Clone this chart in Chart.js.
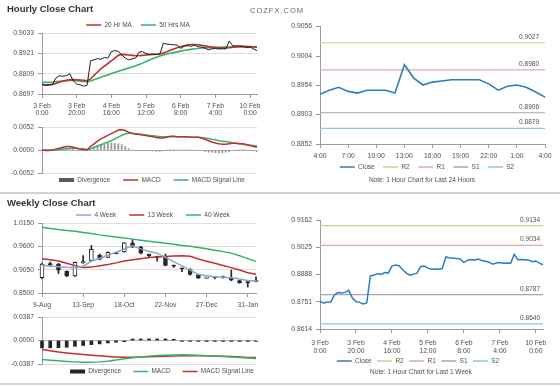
<!DOCTYPE html>
<html>
<head>
<meta charset="utf-8">
<title>Hourly and Weekly Close Charts</title>
<script src="https://cdn.jsdelivr.net/npm/chart.js@4.4.1/dist/chart.umd.min.js"></script>
<style>
  html, body { margin: 0; padding: 0; background: #fff; }
  body { position: relative; width: 560px; height: 386px; overflow: hidden;
         font-family: 'Liberation Sans', Arial, sans-serif; color: #505050; }
  canvas { position: absolute; left: 0; top: 0; }
  .title { position: absolute; left: 7px; font-size: 9.5px; line-height: 10px; font-weight: bold; color: #333; white-space: nowrap; }
  .brand { position: absolute; left: 250px; top: 7px; font-size: 7.5px; line-height: 8px; letter-spacing: 1px; color: #666; }
  .note { position: absolute; width: 200px; font-size: 6.5px; line-height: 8px; text-align: center; white-space: nowrap; }
  .rule { position: absolute; left: 0; width: 560px; height: 2px; background: #d2d2d2; }
</style>
</head>
<body>
<canvas id="hourPrice" width="560" height="386"></canvas>
<canvas id="hourMacd" width="560" height="386"></canvas>
<canvas id="dayChart" width="560" height="386"></canvas>
<canvas id="wkPrice" width="560" height="386"></canvas>
<canvas id="wkMacdChart" width="560" height="386"></canvas>
<canvas id="weekChart" width="560" height="386"></canvas>

<div class="title" style="top:4px">Hourly Close Chart</div>
<div class="brand">COZFX.COM</div>
<div class="note" style="left:322px;top:176px">Note: 1 Hour Chart for Last 24 Hours</div>
<div class="rule" style="top:192px"></div>
<div class="title" style="top:198px">Weekly Close Chart</div>
<div class="note" style="left:321px;top:368px">Note: 1 Hour Chart for Last 1 Week</div>
<div class="rule" style="top:383px"></div>

<script>
// hourly data for the last week, one value every 2 hours (3 Feb 0:00 .. 10 Feb 4:00)
const hourTicks = [['3 Feb', '0:00'], ['3 Feb', '20:00'], ['4 Feb', '16:00'], ['5 Feb', '12:00'],
                   ['6 Feb', '8:00'], ['7 Feb', '4:00'], ['10 Feb', '0:00']];
const hourClose = [
  0.8752, 0.8745, 0.8748, 0.8750, 0.8785, 0.8797, 0.8795, 0.8798, 0.8808, 0.8770,
  0.8752, 0.8748, 0.8740, 0.8745, 0.8880, 0.8885, 0.8892, 0.8888, 0.8898, 0.8895,
  0.8930, 0.8936, 0.8932, 0.8912, 0.8895, 0.8885, 0.8890, 0.8895, 0.8928, 0.8930,
  0.8920, 0.8915, 0.8916, 0.8914, 0.8918, 0.8976, 0.8972, 0.8970, 0.8968, 0.8966,
  0.8948, 0.8960, 0.8963, 0.8960, 0.8966, 0.8958, 0.8955, 0.8950, 0.8940, 0.8946,
  0.8948, 0.8945, 0.8946, 0.8945, 0.8989, 0.8962, 0.8963, 0.8962, 0.8960, 0.8952,
  0.8956, 0.8945, 0.8936];
const ma20 = [
  0.8748, 0.8746, 0.8747, 0.8750, 0.8755, 0.8762, 0.8768, 0.8772, 0.8775, 0.8776,
  0.8775, 0.8774, 0.8772, 0.8770, 0.8780, 0.8800, 0.8818, 0.8835, 0.8850, 0.8865,
  0.8880, 0.8895, 0.8910, 0.8915, 0.8914, 0.8912, 0.8910, 0.8908, 0.8908, 0.8910,
  0.8912, 0.8914, 0.8915, 0.8916, 0.8918, 0.8922, 0.8930, 0.8938, 0.8945, 0.8952,
  0.8958, 0.8963, 0.8968, 0.8970, 0.8970, 0.8968, 0.8965, 0.8962, 0.8958, 0.8955,
  0.8953, 0.8951, 0.8950, 0.8950, 0.8952, 0.8955, 0.8956, 0.8957, 0.8958, 0.8958,
  0.8957, 0.8956, 0.8955];
const ma50 = [
  0.8760, 0.8761, 0.8762, 0.8763, 0.8765, 0.8767, 0.8769, 0.8770, 0.8771, 0.8771,
  0.8770, 0.8768, 0.8766, 0.8763, 0.8768, 0.8775, 0.8782, 0.8789, 0.8796, 0.8802,
  0.8810, 0.8816, 0.8822, 0.8828, 0.8834, 0.8840, 0.8846, 0.8852, 0.8859, 0.8867,
  0.8876, 0.8884, 0.8892, 0.8899, 0.8906, 0.8912, 0.8917, 0.8921, 0.8925, 0.8929,
  0.8933, 0.8937, 0.8940, 0.8943, 0.8946, 0.8948, 0.8950, 0.8951, 0.8952, 0.8953,
  0.8954, 0.8954, 0.8955, 0.8955, 0.8956, 0.8957, 0.8957, 0.8958, 0.8958, 0.8958,
  0.8958, 0.8957, 0.8957];
const hourMacd = [
  0.0000, -0.0001, -0.0001, 0.0000, 0.0002, 0.0004, 0.0006, 0.0008, 0.0008, 0.0006,
  0.0004, 0.0002, 0.0001, 0.0000, 0.0008, 0.0014, 0.0020, 0.0025, 0.0029, 0.0033,
  0.0037, 0.0041, 0.0045, 0.0046, 0.0044, 0.0040, 0.0037, 0.0036, 0.0035, 0.0034,
  0.0033, 0.0031, 0.0030, 0.0028, 0.0027, 0.0027, 0.0029, 0.0031, 0.0031, 0.0030,
  0.0030, 0.0030, 0.0030, 0.0029, 0.0029, 0.0029, 0.0027, 0.0024, 0.0021, 0.0018,
  0.0016, 0.0014, 0.0013, 0.0013, 0.0014, 0.0015, 0.0015, 0.0014, 0.0014, 0.0012,
  0.0010, 0.0008, 0.0006];
const hourSignal = [
  0.0000, 0.0000, 0.0000, 0.0000, 0.0000, 0.0001, 0.0002, 0.0003, 0.0004, 0.0004,
  0.0004, 0.0003, 0.0002, 0.0001, 0.0003, 0.0006, 0.0009, 0.0012, 0.0015, 0.0018,
  0.0021, 0.0025, 0.0029, 0.0033, 0.0036, 0.0038, 0.0038, 0.0037, 0.0036, 0.0035,
  0.0034, 0.0033, 0.0032, 0.0031, 0.0030, 0.0030, 0.0030, 0.0030, 0.0030, 0.0030,
  0.0030, 0.0030, 0.0030, 0.0029, 0.0029, 0.0029, 0.0028, 0.0027, 0.0026, 0.0024,
  0.0023, 0.0021, 0.0020, 0.0019, 0.0018, 0.0016, 0.0015, 0.0014, 0.0013, 0.0012,
  0.0011, 0.0010, 0.0009];
const hourDiv = [
  0.0000, 0.0000, 0.0000, 0.0000, 0.0001, 0.0002, 0.0003, 0.0004, 0.0003, 0.0002,
  0.0000, -0.0001, -0.0001, -0.0001, 0.0004, 0.0007, 0.0010, 0.0012, 0.0014, 0.0015,
  0.0016, 0.0015, 0.0014, 0.0012, 0.0008, 0.0003, 0.0000, -0.0001, -0.0001, -0.0001,
  -0.0001, -0.0002, -0.0002, -0.0003, -0.0003, -0.0002, 0.0000, 0.0001, 0.0000, 0.0000,
  0.0000, 0.0000, 0.0000, 0.0000, 0.0000, 0.0000, -0.0001, -0.0003, -0.0005, -0.0005,
  -0.0006, -0.0006, -0.0006, -0.0005, -0.0004, -0.0001, 0.0000, 0.0000, 0.0001, 0.0000,
  -0.0001, -0.0002, -0.0003];
const hourIdx = hourClose.map((_, i) => i * 2);
const hourPriceTicks = [0.8697, 0.8809, 0.8921, 0.9033];
const hourMacdTicks = [-0.0052, 0, 0.0052];

// last 24 hours
const dayHours = ['4:00', '5:00', '6:00', '7:00', '8:00', '9:00', '10:00', '11:00', '12:00', '13:00',
  '14:00', '15:00', '16:00', '17:00', '18:00', '19:00', '20:00', '21:00', '22:00', '23:00',
  '0:00', '1:00', '2:00', '3:00', '4:00'];
const dayClose = [0.8938, 0.8945, 0.8950, 0.8943, 0.8940, 0.8945, 0.8945, 0.8945, 0.8940, 0.8989,
  0.8966, 0.8954, 0.8959, 0.8961, 0.8963, 0.8963, 0.8963, 0.8963, 0.8956, 0.8945,
  0.8952, 0.8954, 0.8950, 0.8942, 0.8933];
const dayTicks = [0.8852, 0.8903, 0.8954, 0.9004, 0.9056];
const dayLevels = [0.9027, 0.8980, 0.8906, 0.8879];

// weekly candles
const wkDates = ['9-Aug', '16-Aug', '23-Aug', '30-Aug', '6-Sep', '13-Sep', '20-Sep', '27-Sep', '4-Oct',
  '11-Oct', '18-Oct', '25-Oct', '1-Nov', '8-Nov', '15-Nov', '22-Nov', '29-Nov', '6-Dec', '13-Dec',
  '20-Dec', '27-Dec', '3-Jan', '10-Jan', '17-Jan', '24-Jan', '31-Jan', '7-Feb'];
const wkOpen = [0.8860, 0.9190, 0.9180, 0.9010, 0.8900, 0.9210, 0.9260, 0.9390, 0.9340, 0.9450,
  0.9470, 0.9680, 0.9590, 0.9410, 0.9360, 0.9340, 0.9150, 0.9080, 0.9050, 0.8930,
  0.8850, 0.8870, 0.8870, 0.8860, 0.8795, 0.8760, 0.8775];
const wkHigh = [0.9200, 0.9230, 0.9200, 0.9020, 0.9230, 0.9380, 0.9620, 0.9420, 0.9470, 0.9460,
  0.9690, 0.9760, 0.9600, 0.9420, 0.9370, 0.9420, 0.9160, 0.9090, 0.9070, 0.8940,
  0.8880, 0.8890, 0.8900, 0.9040, 0.8800, 0.8770, 0.8880];
const wkLow = [0.8840, 0.9120, 0.8960, 0.8880, 0.8890, 0.9200, 0.9250, 0.9280, 0.9330, 0.9420,
  0.9460, 0.9570, 0.9420, 0.9350, 0.9250, 0.9140, 0.9100, 0.9000, 0.8920, 0.8840,
  0.8840, 0.8830, 0.8850, 0.8790, 0.8730, 0.8640, 0.8760];
const wkClose = [0.9180, 0.9170, 0.9040, 0.8900, 0.9220, 0.9240, 0.9530, 0.9300, 0.9460, 0.9430,
  0.9680, 0.9580, 0.9440, 0.9380, 0.9340, 0.9150, 0.9130, 0.9070, 0.8940, 0.8850,
  0.8870, 0.8865, 0.8865, 0.8800, 0.8740, 0.8745, 0.8790];
const ma4w = [0.9153, 0.9135, 0.9120, 0.9105, 0.9098, 0.9130, 0.9250, 0.9320, 0.9390, 0.9460,
  0.9536, 0.9610, 0.9540, 0.9480, 0.9440, 0.9340, 0.9240, 0.9140, 0.9040, 0.8940,
  0.8905, 0.8883, 0.8870, 0.8859, 0.8830, 0.8795, 0.8780];
const ma13w = [0.9310, 0.9285, 0.9255, 0.9200, 0.9145, 0.9100, 0.9110, 0.9140, 0.9170, 0.9210,
  0.9255, 0.9285, 0.9310, 0.9335, 0.9350, 0.9362, 0.9372, 0.9378, 0.9365, 0.9300,
  0.9250, 0.9200, 0.9150, 0.9098, 0.9040, 0.8978, 0.8940];
const ma40w = [1.0050, 1.0020, 0.9995, 0.9975, 0.9955, 0.9928, 0.9900, 0.9870, 0.9845, 0.9820,
  0.9795, 0.9770, 0.9745, 0.9722, 0.9698, 0.9672, 0.9648, 0.9622, 0.9600, 0.9575,
  0.9545, 0.9510, 0.9475, 0.9440, 0.9380, 0.9310, 0.9240];
const wkMacd = [-0.0313, -0.0325, -0.0335, -0.0345, -0.0352, -0.0357, -0.0357, -0.0352, -0.0340, -0.0320,
  -0.0300, -0.0285, -0.0270, -0.0258, -0.0248, -0.0242, -0.0238, -0.0236, -0.0238, -0.0243,
  -0.0250, -0.0258, -0.0265, -0.0272, -0.0280, -0.0288, -0.0296];
const wkSignal = [-0.0148, -0.0170, -0.0190, -0.0205, -0.0220, -0.0232, -0.0242, -0.0252, -0.0262, -0.0270,
  -0.0275, -0.0276, -0.0272, -0.0266, -0.0262, -0.0258, -0.0255, -0.0252, -0.0250, -0.0250,
  -0.0252, -0.0255, -0.0260, -0.0265, -0.0272, -0.0278, -0.0282];
const wkDiv = [-0.0121, -0.0121, -0.0118, -0.0112, -0.0095, -0.0082, -0.0068, -0.0056, -0.0040, -0.0028,
  -0.0020, 0.0025, 0.0025, 0.0025, 0.0025, 0.0025, 0.0020, -0.0015, -0.0015, -0.0015,
  -0.0015, -0.0015, -0.0015, -0.0015, -0.0015, -0.0015, -0.0015];
const wkPriceTicks = [0.8500, 0.9050, 0.9600, 1.0150];
const wkMacdTicks = [-0.0387, 0, 0.0387];

// last week, hourly, with pivot levels
const weekTicks = [0.8614, 0.8751, 0.8888, 0.9025, 0.9162];
const weekLevels = [0.9134, 0.9034, 0.8787, 0.8640];
const levelNames = ['R2', 'R1', 'S1', 'S2'];

const RED = '#c0302e';
const GREEN = '#36b36a';
const BLUE = '#2f7dbd';
const STEEL = '#86a8cb';
const AXIS = '#9b9b9b';
const levelColors = ['#cdcf8f', '#e0a9b1', '#aaa4bb', '#8dc9df'];

Chart.defaults.font.family = "'Liberation Sans', Arial, sans-serif";
Chart.defaults.font.size = 6.5;
Chart.defaults.color = '#505050';

// legend takes no room in the layout, it is put at a fixed spot instead
const legendSpot = {
  id: 'legendSpot',
  beforeLayout(chart) {
    const lg = chart.legend;
    if (lg && !lg._spot) {
      const fit = lg.fit;
      lg.fit = function () { fit.call(this); this.height = 0; };
      lg._spot = true;
    }
  },
  afterLayout(chart, args, opts) {
    const lg = chart.legend;
    if (!lg || opts.y == null) return;
    const pad = lg.options.labels.padding;
    const top = opts.y - pad - 3.25;
    const dx = opts.x - (lg.left + lg.right) / 2;
    lg.left += dx;
    lg.right += dx;
    lg.top = top;
    lg.bottom = top + 20;
    lg.height = 20;
  }
};

// small value labels above the pivot lines
const levelText = {
  id: 'levelText',
  afterDatasetsDraw(chart, args, opts) {
    if (!opts.values) return;
    const { ctx, chartArea, scales } = chart;
    ctx.save();
    ctx.font = "6.5px 'Liberation Sans', Arial, sans-serif";
    ctx.fillStyle = '#505050';
    ctx.textAlign = 'right';
    ctx.textBaseline = 'middle';
    opts.values.forEach(v => {
      ctx.fillText(v.toFixed(4), chartArea.right - opts.inset, scales.y.getPixelForValue(v) - opts.lift);
    });
    ctx.restore();
  }
};
Chart.register(legendSpot, levelText);

function lineItems(chart) {
  return chart.data.datasets.map((d, i) => ({
    text: d.label,
    datasetIndex: i,
    hidden: false,
    fillStyle: d.legendColor || d.borderColor,
    strokeStyle: d.legendColor || d.borderColor,
    lineWidth: d.legendWidth || 1.5,
    pointStyle: 'line',
    fontColor: '#505050'
  })).filter(item => item.text);
}

function legendAt(x, y, padding) {
  return {
    legend: {
      position: 'top',
      labels: { usePointStyle: true, pointStyleWidth: 15, padding, font: { size: 6.5 }, generateLabels: lineItems }
    },
    legendSpot: { x, y },
    tooltip: { enabled: false }
  };
}

function yScale(ticks, width, grid) {
  return {
    position: 'left',
    min: ticks[0],
    max: ticks[ticks.length - 1],
    afterBuildTicks: s => { s.ticks = ticks.map(v => ({ value: v })); },
    afterFit: s => { s.width = width; },
    border: { color: AXIS },
    grid: {
      drawOnChartArea: grid,
      color: c => (c.tick && c.tick.value === 0 ? '#b0b0b0' : '#dedede'),
      tickColor: AXIS,
      tickLength: 4
    },
    ticks: { padding: 4, font: { size: 6.8 }, callback: v => v.toFixed(4) }
  };
}

function xScale(step, labelAt, height, pad, lh) {
  return {
    offset: false,
    afterFit: s => { s.height = height; },
    border: { color: AXIS },
    grid: {
      offset: false,
      drawOnChartArea: false,
      tickLength: 4,
      tickColor: c => (c.index % step === 0 ? AXIS : 'rgba(0,0,0,0)')
    },
    ticks: {
      autoSkip: false, maxRotation: 0, minRotation: 0, padding: pad,
      font: { size: 6.8, lineHeight: lh },
      callback: (v, i) => (i % step === 0 ? labelAt(i) : '')
    }
  };
}

const hiddenX = { display: false, offset: false, grid: { offset: false } };

function base(padding, scales, plugins) {
  return {
    responsive: false,
    animation: false,
    events: [],
    layout: { padding },
    scales,
    plugins,
    elements: { point: { radius: 0 }, line: { tension: 0 } },
    datasets: { bar: { grouped: false, clip: false } }
  };
}

function levelSets(levels, n) {
  return levels.map((v, k) => ({
    label: levelNames[k],
    data: new Array(n).fill(v),
    borderColor: levelColors[k],
    borderWidth: 1.2
  }));
}

// hourly close, last week
new Chart('hourPrice', {
  type: 'line',
  data: {
    labels: hourIdx,
    datasets: [
      { data: hourClose, borderColor: '#1e1e1e', borderWidth: 1 },
      { label: '20 Hr MA', data: ma20, borderColor: RED, borderWidth: 1.6 },
      { label: '50 Hrs MA', data: ma50, borderColor: GREEN, borderWidth: 1.6 }
    ]
  },
  options: base({ left: 0, top: 33, right: 303, bottom: 268 },
    { x: xScale(10, i => hourTicks[i / 10], 24, 4.3, 1.07), y: yScale(hourPriceTicks, 42, true) },
    legendAt(138, 25, 9))
});

// hourly MACD
new Chart('hourMacd', {
  type: 'bar',
  data: {
    labels: hourIdx,
    datasets: [
      { label: 'Divergence', data: hourDiv, backgroundColor: '#9a9a9a', barThickness: 1.2,
        legendColor: '#5a5a5a', legendWidth: 4, order: 1 },
      { type: 'line', label: 'MACD', data: hourMacd, borderColor: RED, borderWidth: 1.5, order: 0 },
      { type: 'line', label: 'MACD Signal Line', data: hourSignal, borderColor: GREEN, borderWidth: 1.5, order: 0 }
    ]
  },
  options: base({ left: 0, top: 127, right: 303, bottom: 213 },
    { x: hiddenX, y: yScale(hourMacdTicks, 42, true) },
    legendAt(152, 180, 13))
});

// last 24 hours with pivots
const dayOpts = base({ left: 275, top: 26, right: 15, bottom: 225 },
  { x: xScale(3, i => dayHours[i], 17, 4.3, 1.07), y: yScale(dayTicks, 45, false) },
  legendAt(427, 167, 8.5));
dayOpts.plugins.levelText = { values: dayLevels, inset: 6, lift: 6 };
new Chart('dayChart', {
  type: 'line',
  data: {
    labels: dayHours,
    datasets: [{ label: 'Close', data: dayClose, borderColor: BLUE, borderWidth: 1.6 }]
      .concat(levelSets(dayLevels, dayHours.length))
  },
  options: dayOpts
});

// weekly candles with moving averages
new Chart('wkPrice', {
  type: 'bar',
  data: {
    labels: wkDates,
    datasets: [
      { type: 'line', label: '4 Week', data: ma4w, borderColor: STEEL, borderWidth: 1.5, order: 0 },
      { type: 'line', label: '13 Week', data: ma13w, borderColor: RED, borderWidth: 1.5, order: 0 },
      { type: 'line', label: '40 Week', data: ma40w, borderColor: GREEN, borderWidth: 1.5, order: 0 },
      { data: wkOpen.map((o, i) => [o, wkClose[i]]), barThickness: 4, minBarLength: 1,
        backgroundColor: wkOpen.map((o, i) => (wkClose[i] >= o ? '#ffffff' : '#262626')),
        borderColor: '#262626', borderWidth: 1, borderSkipped: false, order: 1 },
      { data: wkLow.map((l, i) => [l, wkHigh[i]]), barThickness: 1, backgroundColor: '#262626', order: 2 }
    ]
  },
  options: base({ left: 0, top: 223, right: 304, bottom: 73 },
    { x: xScale(5, i => wkDates[i], 20, 4.3, 1.07), y: yScale(wkPriceTicks, 42, true) },
    legendAt(153, 215, 13))
});

// weekly MACD
new Chart('wkMacdChart', {
  type: 'bar',
  data: {
    labels: wkDates,
    datasets: [
      { label: 'Divergence', data: wkDiv, backgroundColor: '#262626', barThickness: 3,
        legendColor: '#262626', legendWidth: 4, order: 1 },
      { type: 'line', label: 'MACD', data: wkMacd, borderColor: GREEN, borderWidth: 1.5, order: 0 },
      { type: 'line', label: 'MACD Signal Line', data: wkSignal, borderColor: RED, borderWidth: 1.5, order: 0 }
    ]
  },
  options: base({ left: 0, top: 317, right: 304, bottom: 22 },
    { x: hiddenX, y: yScale(wkMacdTicks, 42, true) },
    legendAt(162, 371.5, 12))
});

// last week hourly with pivots
const weekOpts = base({ left: 275, top: 220, right: 17, bottom: 33 },
  { x: xScale(10, i => hourTicks[i / 10], 24, 6.4, 1.13), y: yScale(weekTicks, 45, false) },
  legendAt(418, 361, 5.5));
weekOpts.plugins.levelText = { values: weekLevels, inset: 3, lift: 5.8 };
new Chart('weekChart', {
  type: 'line',
  data: {
    labels: hourIdx,
    datasets: [{ label: 'Close', data: hourClose, borderColor: BLUE, borderWidth: 1.5 }]
      .concat(levelSets(weekLevels, hourIdx.length))
  },
  options: weekOpts
});
</script>
</body>
</html>
